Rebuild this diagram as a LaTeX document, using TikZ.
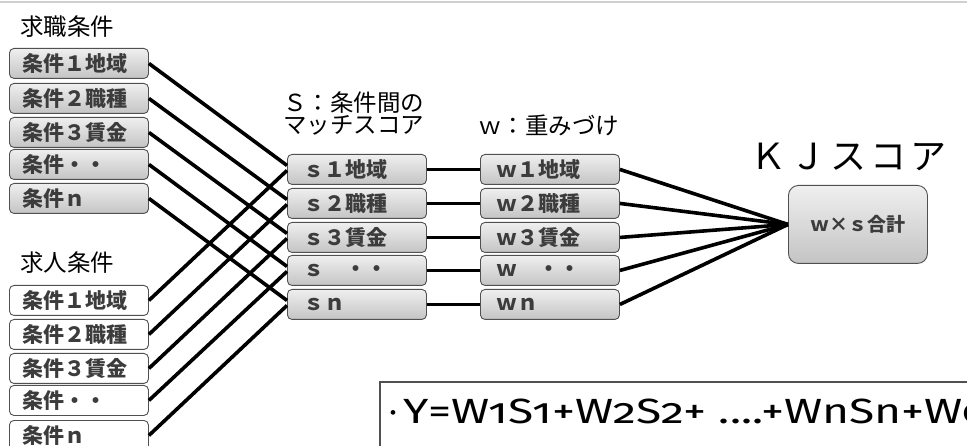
\documentclass[tikz,border=0pt]{standalone}
\usepackage{graphicx}
\usepackage{fontspec}
\newfontfamily\jp{Noto Sans CJK JP}
\newfontfamily\formfont[Numbers=OldStyle]{Fira Sans}
\definecolor{boxtop}{HTML}{EFEFEF}
\definecolor{boxbot}{HTML}{C4C4C4}
\definecolor{boxline}{HTML}{505050}
\definecolor{boxtext}{HTML}{3C3C3C}
\definecolor{rulegray}{HTML}{D0D0D0}

\begin{document}
\begin{tikzpicture}[x=1pt,y=-1pt,
  cbox/.style={draw=boxline, line width=0.9pt, rounded corners=4.5pt,
    minimum height=30pt, inner ysep=0pt, align=left, anchor=north west,
    font=\jp\bfseries\fontsize{21}{23}\selectfont, text=boxtext},
  leftbox/.style={cbox, inner xsep=13pt, text width=113pt},
  midbox/.style={cbox, inner xsep=16pt, text width=107pt},
  shaded/.style={top color=boxtop, bottom color=boxbot},
  plain/.style={fill=white},
  title/.style={anchor=west, inner sep=0pt, font=\jp\fontsize{23.5}{26}\selectfont, text=black},
  conn/.style={line width=3.6pt, black}]

\useasboundingbox (0,0) rectangle (967,446);
\clip (0,0) rectangle (967,446);
\fill[white] (0,0) rectangle (967,446);
\draw[rulegray, line width=1.2pt] (0,2) -- (967,2);

% job seeker side
\node[title] (tq) at (20,27) {求職条件};
\node[leftbox, shaded] (q1) at (9,48)  {条件１地域};
\node[leftbox, shaded] (q2) at (9,83)  {条件２職種};
\node[leftbox, shaded] (q3) at (9,117) {条件３賃金};
\node[leftbox, shaded] (q4) at (9,149) {条件・・};
\node[leftbox, shaded] (q5) at (9,183) {条件ｎ};

% job offer side
\node[title] (tr) at (20,263) {求人条件};
\node[leftbox, plain] (r1) at (9,285) {条件１地域};
\node[leftbox, plain] (r2) at (9,319) {条件２職種};
\node[leftbox, plain] (r3) at (9,353) {条件３賃金};
\node[leftbox, plain] (r4) at (9,385) {条件・・};
\node[leftbox, plain] (r5) at (9,420) {条件ｎ};

% match scores
\node[title] (ts1) at (283,103) {Ｓ：条件間の};
\node[title] (ts2) at (283,125) {マッチスコア};
\node[midbox, shaded] (s1) at (287,154) {ｓ１地域};
\node[midbox, shaded] (s2) at (287,188) {ｓ２職種};
\node[midbox, shaded] (s3) at (287,222) {ｓ３賃金};
\node[midbox, shaded] (s4) at (287,255) {ｓ　・・};
\node[midbox, shaded] (s5) at (287,289) {ｓｎ};

% weights
\node[title] (tw) at (478,125) {ｗ：重みづけ};
\node[midbox, shaded] (w1) at (480,154) {ｗ１地域};
\node[midbox, shaded] (w2) at (480,188) {ｗ２職種};
\node[midbox, shaded] (w3) at (480,222) {ｗ３賃金};
\node[midbox, shaded] (w4) at (480,255) {ｗ　・・};
\node[midbox, shaded] (w5) at (480,289) {ｗｎ};

% total score
\node[anchor=west, inner sep=0pt, font=\jp\fontsize{36}{38}\selectfont] (tk) at (750,157)
  {Ｋ\hspace{4pt}Ｊ\hspace{4pt}ス\hspace{4pt}コ\hspace{4pt}ア};
\node[draw=boxline, line width=0.9pt, rounded corners=10pt, shaded,
  minimum width=139pt, minimum height=78pt, anchor=north west,
  font=\jp\bfseries\fontsize{19}{22}\selectfont, text=boxtext] (kj) at (788,185) {ｗ×ｓ合計};

% connectors
\foreach \i in {1,...,5}{
  \draw[conn] (q\i.east) -- ([yshift=4pt]s\i.west);
  \draw[conn] (r\i.east) -- ([yshift=-1pt]s\i.west);
  \draw[conn] (s\i.east) -- (w\i.west);
  \draw[conn] (w\i.east) -- (kj.west);
}

% regression formula
\draw[boxline, line width=1.2pt] (1000,382) -| (380,480);
\node[anchor=base west, inner sep=0pt, font=\formfont\fontsize{35}{38}\selectfont] (fm) at (386,423)
  {{\jp\fontsize{28}{30}\selectfont ･}\hspace{3pt}\scalebox{1.32}[1]{Y=W1S1+W2S2+ ....+WnSn+W0}};
\end{tikzpicture}
\end{document}
